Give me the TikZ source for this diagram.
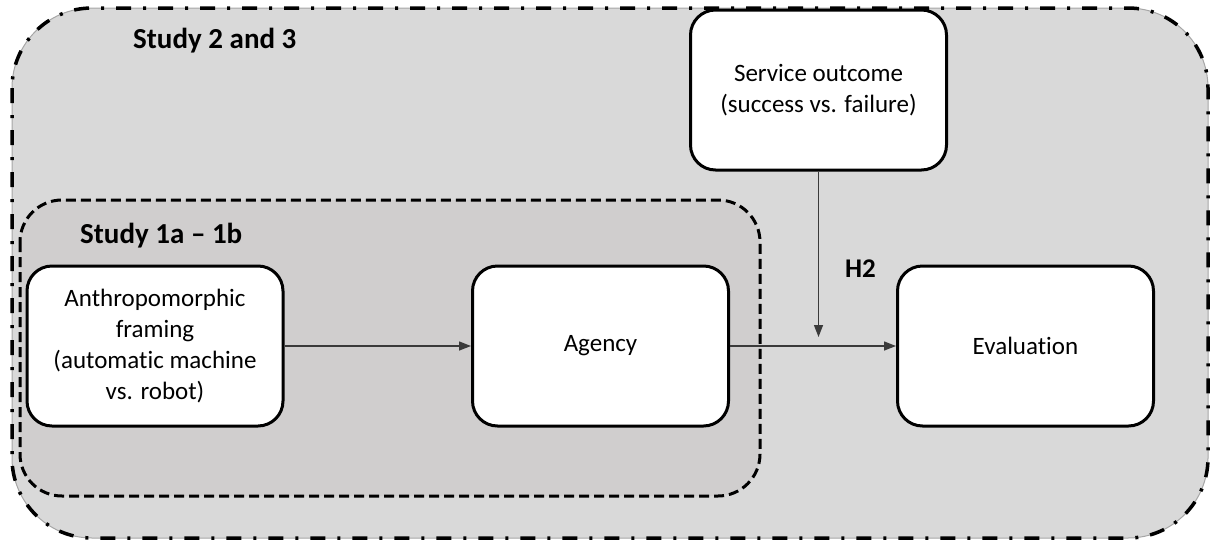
\documentclass[tikz,border=0pt]{standalone}
\usepackage{fontspec}
\setmainfont{Carlito}[Ligatures=CommonOff]
\usetikzlibrary{arrows.meta}
\definecolor{outerfill}{HTML}{D9D9D9}
\definecolor{innerfill}{HTML}{D0CECE}
\definecolor{rimgray}{HTML}{A6A6A6}
\definecolor{linkgray}{HTML}{3A3A3A}
\tikzset{
  varbox/.style={draw=black, line width=3pt, fill=white, rounded corners=25pt,
    minimum width=256pt, minimum height=160pt, align=center, inner sep=4pt,
    font=\fontsize{25}{31}\selectfont},
  grouptitle/.style={font=\bfseries\fontsize{29}{34}\selectfont, anchor=base west, inner sep=0pt},
  link/.style={draw=linkgray, line width=1.4pt, -{Triangle[length=12pt,width=9pt]}}
}
\begin{document}
\begin{tikzpicture}[x=1pt,y=-1pt]
\useasboundingbox (0,0) rectangle (1215,552);
% outer group: Study 2 and 3
\path[fill=outerfill, draw=rimgray, line width=1pt, rounded corners=80pt] (12,8) rectangle (1208,538);
\draw[line width=3.5pt, dash pattern=on 15pt off 12pt on 3pt off 12pt, rounded corners=80pt] (12,8) rectangle (1208,538);
% inner group: Study 1a - 1b
\draw[fill=innerfill, line width=3pt, dash pattern=on 10pt off 5pt, rounded corners=42pt] (20,200) rectangle (760,496);
\node[grouptitle] (t23) at (133,48) {Study 2 and 3};
\node[grouptitle] (t1) at (80,243) {Study 1a – 1b};
% variables
\node[varbox] (anthro) at (155,346) {Anthropomorphic\\framing\\(automatic machine\\vs. robot)};
\node[varbox] (agency) at (600.5,346) {Agency};
\node[varbox] (eval) at (1025.5,346) {Evaluation};
\node[varbox] (service) at (818.5,90) {Service outcome\\(success vs. failure)};
\node[font=\bfseries\fontsize{27}{32}\selectfont, anchor=base west, inner sep=0pt] (h2) at (845,277) {H2};
\coordinate (mod) at (818.5,337);
% paths
\draw[link] (anthro.east) -- (agency.west);
\draw[link] (agency.east) -- (eval.west);
\draw[link] (service.south) -- (mod);
\end{tikzpicture}
\end{document}
